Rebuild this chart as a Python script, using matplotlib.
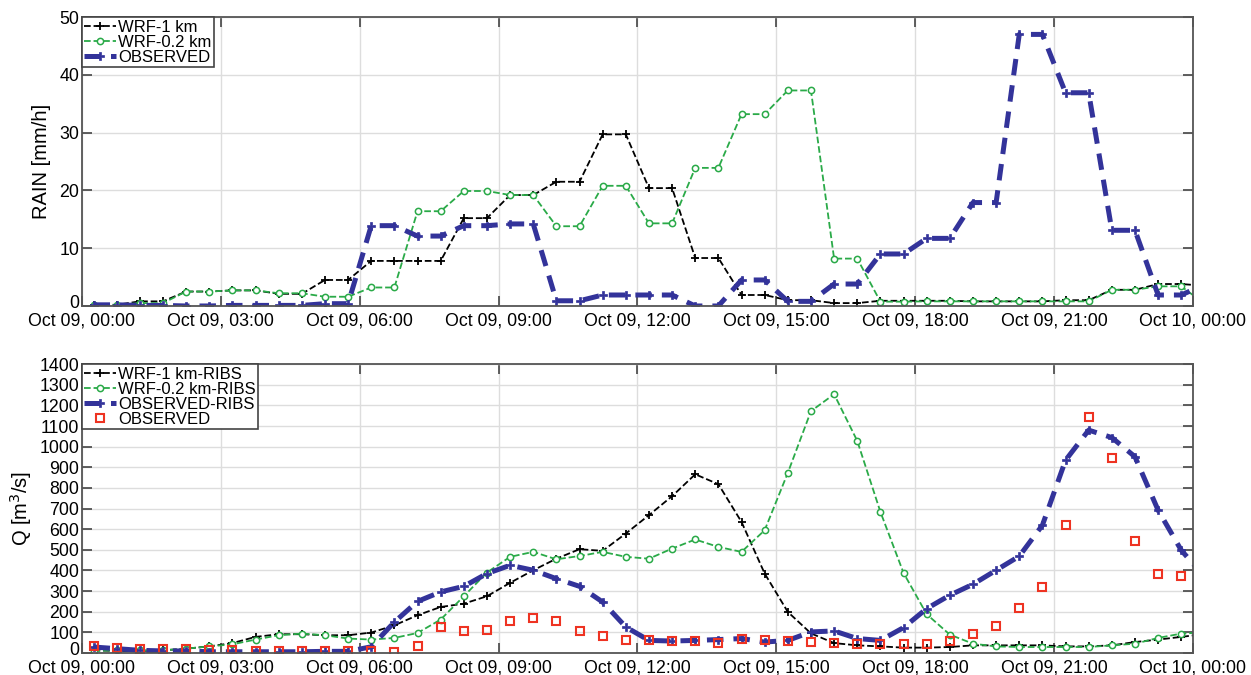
import numpy as np
import matplotlib
matplotlib.use("Agg")
import matplotlib.pyplot as plt
from matplotlib.transforms import ScaledTranslation

plt.rcParams['font.family'] = ['Liberation Sans', 'DejaVu Sans']

# ---------------- data ----------------
# hourly rain [mm/h], hour 0 .. 24 (each hour shown at hh:15 and hh:45)
rain_wrf1 = [0.2, 0.8, 2.5, 2.7, 2.1, 4.5, 7.8, 7.8, 15.2, 19.2, 21.5, 29.7,
             20.4, 8.3, 1.9, 1.0, 0.5, 0.9, 0.9, 0.8, 0.8, 1.0, 2.8, 3.8, 3.5]
rain_wrf02 = [0.2, 0.5, 2.5, 2.7, 2.2, 1.6, 3.2, 16.4, 19.9, 19.2, 13.8, 20.8,
              14.3, 23.9, 33.2, 37.3, 8.2, 0.75, 0.8, 0.8, 0.8, 0.8, 2.8, 3.4, 0.4]
rain_obs = [0.2, 0.1, 0.0, 0.1, 0.1, 0.4, 13.9, 12.1, 13.9, 14.2, 0.9, 1.9,
            1.9, 0.0, 4.5, 0.8, 3.8, 9.0, 11.7, 17.9, 47.0, 36.9, 13.1, 1.9, 3.7]

# discharge [m3/s] every 30 min starting 00:15
q_wrf1 = [13, 10, 10, 13, 21, 32, 48, 78, 91, 91, 86, 86, 99, 134,
          183, 223, 239, 275, 340, 401, 457, 503, 495, 579, 668, 760, 866, 818,
          635, 385, 199, 95, 48, 37, 32, 26, 26, 29, 37, 37, 37, 37, 32, 32,
          37, 53, 65, 78, 92]
q_wrf02 = [10, 13, 13, 13, 21, 32, 42, 65, 86, 94, 86, 70, 65, 73,
           97, 162, 275, 390, 466, 490, 454, 470, 490, 466, 457, 506, 550, 514,
           490, 595, 873, 1172, 1254, 1028, 684, 388, 188, 89, 45, 32, 29, 29,
           29, 29, 37, 45, 73, 94, 100]
q_obs_ribs = [29, 21, 13, 10, 10, 6, 6, 6, 6, 6, 8, 8, 30, 150,
              250, 296, 323, 385, 425, 401, 360, 323, 247, 126, 61, 58, 61, 65,
              70, 53, 61, 102, 107, 70, 61, 123, 215, 280, 333, 401, 469, 619,
              934, 1080, 1044, 951, 692, 498, 370]
q_obs = [32, 26, 21, 18, 18, 16, 13, 10, 10, 10, 8, 8, 8, 5,
         32, 126, 105, 110, 155, 171, 154, 105, 82, 65, 61, 58, 58, 48,
         66, 65, 57, 52, 48, 45, 45, 42, 45, 58, 90, 129, 218, 320,
         618, 1146, 947, 541, 385, 373]

xtick_hours = [0, 3, 6, 9, 12, 15, 18, 21, 24]
xtick_labels = ['Oct 09, 00:00', 'Oct 09, 03:00', 'Oct 09, 06:00', 'Oct 09, 09:00',
                'Oct 09, 12:00', 'Oct 09, 15:00', 'Oct 09, 18:00', 'Oct 09, 21:00',
                'Oct 10, 00:00']

# ---------------- styling ----------------
BLUE = '#33339a'
GREEN = '#2aaa48'
RED = '#ee3322'


def step_xy(vals):
    x, y = [], []
    for h, v in enumerate(vals):
        x += [h + 0.25, h + 0.75]
        y += [v, v]
    return np.array(x), np.array(y)


def half_x(vals):
    return 0.25 + 0.5 * np.arange(len(vals))


fig = plt.figure(figsize=(12.51, 6.75), dpi=100)
ax1 = fig.add_axes([0.0655, 0.5467, 0.888, 0.428])
ax2 = fig.add_axes([0.0655, 0.0326, 0.888, 0.428])


def style(ax):
    ax.set_xlim(0, 24)
    ax.set_xticks(xtick_hours)
    ax.set_xticklabels(xtick_labels)
    ax.grid(True, color='#dddddd', linewidth=1.0)
    ax.set_axisbelow(True)
    ax.tick_params(direction='in', top=True, right=True, labelsize=12.8,
                   length=7, width=1.2, color='#444444', pad=2)
    ax.tick_params(axis='x', pad=5)
    for s in ax.spines.values():
        s.set_color('#555555')
        s.set_linewidth(1.3)


def nudge_zero(ax):
    fig.canvas.draw()
    lab = ax.get_yticklabels()[0]
    lab.set_transform(lab.get_transform() +
                      ScaledTranslation(0, 4 / 100, fig.dpi_scale_trans))


def legend(ax):
    leg = ax.legend(loc='upper left', fontsize=12, fancybox=False,
                    framealpha=1, edgecolor='#444444', borderpad=0.15,
                    labelspacing=0.0, handlelength=1.9, handletextpad=0.1,
                    borderaxespad=0.0)
    leg.get_frame().set_linewidth(1.2)


# top
x, y = step_xy(rain_wrf1)
ax1.plot(x, y, color='black', ls='--', lw=1.3, marker='+', ms=6, mew=1.3,
         label='WRF-1 km')
x, y = step_xy(rain_wrf02)
ax1.plot(x, y, color=GREEN, ls='--', lw=1.3, marker='o', ms=4.5, mfc='white',
         mew=1.1, label='WRF-0.2 km')
x, y = step_xy(rain_obs)
ax1.plot(x, y, color=BLUE, ls=(0, (3.3, 2.0)), lw=3.6, marker='P', ms=6,
         mew=0.5, label='OBSERVED')
style(ax1)
ax1.set_ylim(0, 50)
ax1.set_yticks([0, 10, 20, 30, 40, 50])
ax1.set_ylabel('RAIN [mm/h]', fontsize=14.5, labelpad=6)
legend(ax1)

# bottom
ax2.plot(half_x(q_wrf1), q_wrf1, color='black', ls='--', lw=1.3, marker='+',
         ms=6, mew=1.3, label='WRF-1 km-RIBS')
ax2.plot(half_x(q_wrf02), q_wrf02, color=GREEN, ls='--', lw=1.3, marker='o',
         ms=4.5, mfc='white', mew=1.1, label='WRF-0.2 km-RIBS')
ax2.plot(half_x(q_obs_ribs), q_obs_ribs, color=BLUE, ls=(0, (3.3, 2.0)), lw=3.6,
         marker='P', ms=6, mew=0.5, label='OBSERVED-RIBS')
ax2.plot(half_x(q_obs), q_obs, ls='none', marker='s', ms=6, mfc='none',
         mec=RED, mew=1.5, label='OBSERVED')
style(ax2)
ax2.set_ylim(0, 1400)
ax2.set_yticks(np.arange(0, 1401, 100))
ax2.set_ylabel('Q [m$^3$/s]', fontsize=14.5, labelpad=4)
legend(ax2)

nudge_zero(ax1)
nudge_zero(ax2)

fig.savefig('out.png', dpi=100)
